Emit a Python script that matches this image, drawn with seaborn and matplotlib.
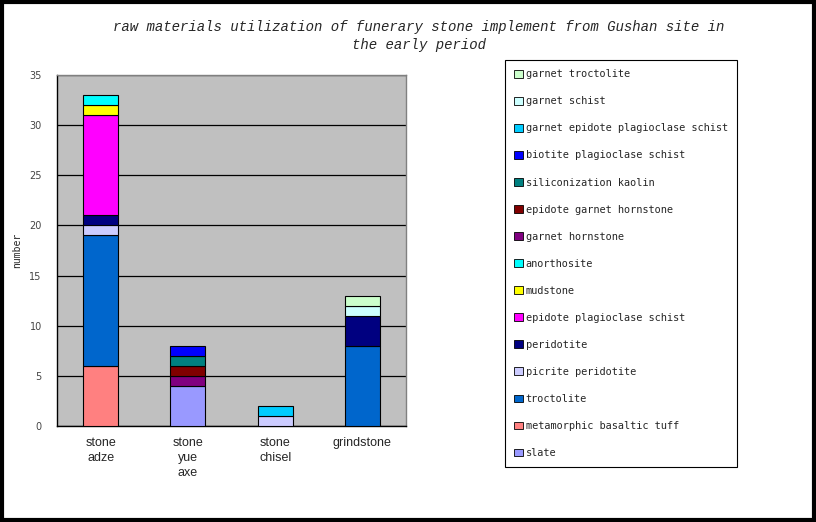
import matplotlib
matplotlib.use("Agg")
import matplotlib.pyplot as plt
from matplotlib.patches import Patch, Rectangle
import seaborn as sns
import pandas as pd
import numpy as np

categories = ["stone\nadze", "stone\nyue\naxe", "stone\nchisel", "grindstone"]

# stacking order (bottom to top); legend shows reversed order
materials = [
    "slate",
    "metamorphic basaltic tuff",
    "troctolite",
    "picrite peridotite",
    "peridotite",
    "epidote plagioclase schist",
    "mudstone",
    "anorthosite",
    "garnet hornstone",
    "epidote garnet hornstone",
    "siliconization kaolin",
    "biotite plagioclase schist",
    "garnet epidote plagioclase schist",
    "garnet schist",
    "garnet troctolite",
]

# counts per category: [adze, yue axe, chisel, grindstone]
slate = [0, 4, 0, 0]
metamorphic_basaltic_tuff = [6, 0, 0, 0]
troctolite = [13, 0, 0, 8]
picrite_peridotite = [1, 0, 1, 0]
peridotite = [1, 0, 0, 3]
epidote_plagioclase_schist = [10, 0, 0, 0]
mudstone = [1, 0, 0, 0]
anorthosite = [1, 0, 0, 0]
garnet_hornstone = [0, 1, 0, 0]
epidote_garnet_hornstone = [0, 1, 0, 0]
siliconization_kaolin = [0, 1, 0, 0]
biotite_plagioclase_schist = [0, 1, 0, 0]
garnet_epidote_plagioclase_schist = [0, 0, 1, 0]
garnet_schist = [0, 0, 0, 1]
garnet_troctolite = [0, 0, 0, 1]

values = [
    slate, metamorphic_basaltic_tuff, troctolite, picrite_peridotite, peridotite,
    epidote_plagioclase_schist, mudstone, anorthosite, garnet_hornstone,
    epidote_garnet_hornstone, siliconization_kaolin, biotite_plagioclase_schist,
    garnet_epidote_plagioclase_schist, garnet_schist, garnet_troctolite,
]

colors = [
    "#9999FF", "#FF8080", "#0066CC", "#CCCCFF", "#000080", "#FF00FF", "#FFFF00",
    "#00FFFF", "#800080", "#800000", "#008080", "#0000FF", "#00CCFF", "#CCFFFF",
    "#CCFFCC",
]

sns.set_style("white")
plt.rcParams["font.family"] = ["DejaVu Sans"]

fig = plt.figure(figsize=(8.16, 5.22), dpi=100)
ax = fig.add_axes([0.0699, 0.1839, 0.4277, 0.6724])
ax.set_facecolor("#C0C0C0")

bottom = np.zeros(len(categories))
for mat, vals, col in zip(materials, values, colors):
    vals = np.array(vals, dtype=float)
    mask = vals > 0
    if mask.any():
        df = pd.DataFrame({"cat": np.array(categories)[mask], "n": vals[mask]})
        sns.barplot(data=df, x="cat", y="n", order=categories, bottom=bottom[mask],
                    color=col, saturation=1, width=0.4, edgecolor="black",
                    linewidth=0.8, ax=ax, zorder=3)
    bottom += vals

ax.set_xlim(-0.5, 3.5)
ax.set_ylim(0, 35)
ax.set_yticks(range(0, 36, 5))
ax.yaxis.grid(True, color="black", linewidth=0.9, zorder=0)
ax.set_axisbelow(True)
for s in ["left", "bottom"]:
    ax.spines[s].set_color("black")
    ax.spines[s].set_linewidth(1)
for s in ["top", "right"]:
    ax.spines[s].set_color("#808080")
    ax.spines[s].set_linewidth(1)

ax.set_xlabel("")
ax.set_ylabel("number", fontsize=7, fontfamily="DejaVu Sans Mono")
ax.yaxis.set_label_coords(-0.10, 0.5)
ax.set_xticks(range(len(categories)))
ax.set_xticklabels(categories, fontsize=9, fontfamily="Liberation Sans", va="top",
                   linespacing=1.3)
ax.tick_params(axis="x", length=0, pad=8)
ax.set_xticks([0.5, 1.5, 2.5], minor=True)
ax.tick_params(axis="x", which="minor", length=4, direction="in", color="black")
ax.tick_params(axis="y", length=4, direction="out", labelsize=7, pad=7,
               colors="black", labelcolor="#444444")

fig.text(0.513, 0.948, "raw materials utilization of funerary stone implement from Gushan site in",
         ha="center", va="center", fontsize=10.1, style="italic",
         fontfamily="Liberation Mono")
fig.text(0.513, 0.913, "the early period", ha="center", va="center", fontsize=10.1,
         style="italic", fontfamily="Liberation Mono")

handles = [Patch(facecolor=c, edgecolor="black", linewidth=0.6, label=m)
           for m, c in zip(materials, colors)][::-1]
leg = fig.legend(handles=handles, loc="upper left",
                 bbox_to_anchor=(0.619, 0.885), ncol=1, frameon=True,
                 fancybox=False, edgecolor="black", framealpha=1,
                 prop={"family": "DejaVu Sans Mono", "size": 7.4},
                 handlelength=0.8, handleheight=0.8, handletextpad=0.3,
                 labelspacing=1.66, borderpad=0.9, borderaxespad=0)
leg.get_frame().set_linewidth(0.8)

fig.patches.append(Rectangle((0.002, 0.003), 0.996, 0.994, transform=fig.transFigure,
                             fill=False, edgecolor="black", linewidth=3))

fig.savefig("out.png", dpi=100)
